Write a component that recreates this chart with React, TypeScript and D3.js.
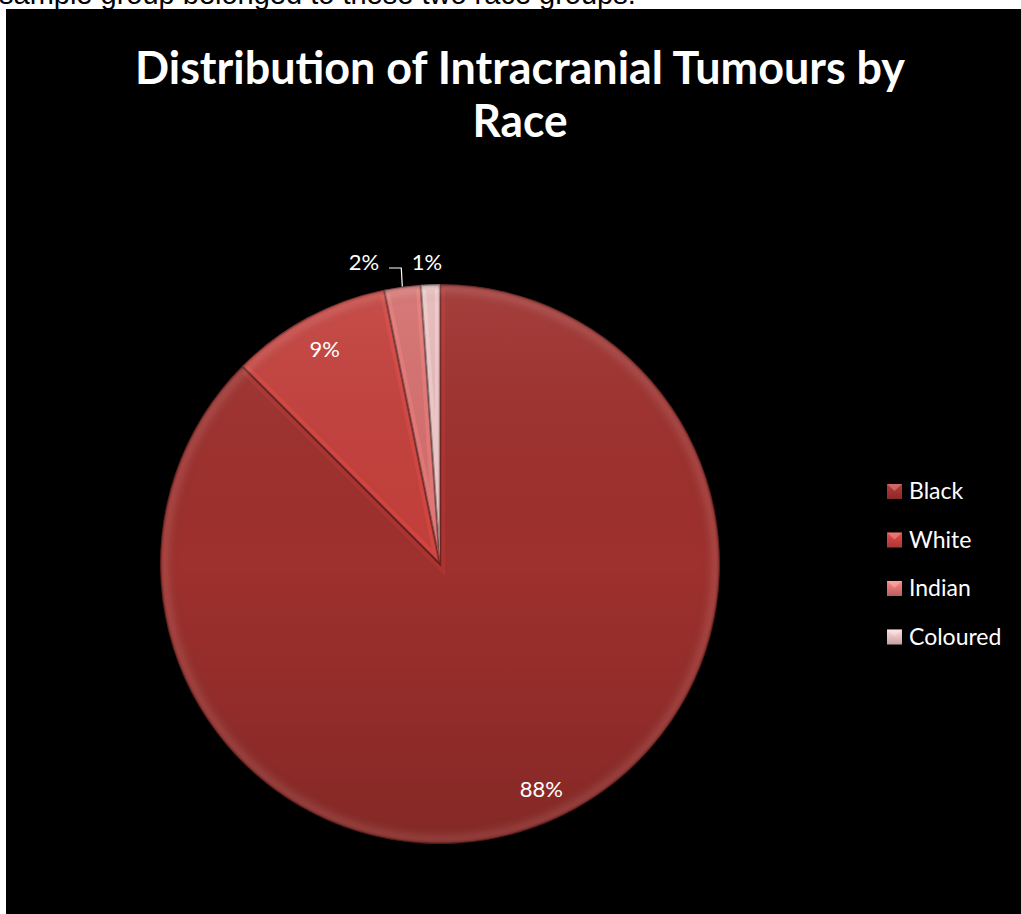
import React from "react";
import * as d3 from "d3";

const categories = ["Black", "White", "Indian", "Coloured"];
const values = [87.5, 9.3, 2.1, 1.1];
const colors = ["#9e302d", "#c3403c", "#d46f6e", "#e6b9b9"];
const title = ["Distribution of Intracranial Tumours by", "Race"];
const topText = "sample group belonged to these two race groups.";

const W = 1021;
const H = 914;
const cx = 440;
const cy = 564;
const R = 280;

export default function App() {
  const total = d3.sum(values);
  const pie = d3.pie<number>().sort(null).value((d) => d)(values);
  const arc = d3.arc<d3.PieArcDatum<number>>().innerRadius(0).outerRadius(R);
  const fmt = (v: number) => Math.round((v / total) * 100) + "%";

  const labels = pie.map((p, i) => {
    const mid = (p.startAngle + p.endAngle) / 2;
    const frac = p.value / total;
    if (frac > 0.05) {
      const rr = R * 0.87;
      const x = cx + rr * Math.sin(mid) + (frac > 0.5 ? 8 : 0);
      return { i, x, y: cy - rr * Math.cos(mid), outside: false, mid };
    }
    return { i, x: cx + (R + 10) * Math.sin(mid) - 3, y: cy - R - 22, outside: true, mid };
  });
  const outs = labels.filter((l) => l.outside).sort((a, b) => b.x - a.x);
  for (let k = 1; k < outs.length; k++) {
    if (outs[k - 1].x - outs[k].x < 63) outs[k].x = outs[k - 1].x - 63;
  }

  return (
    <svg width={W} height={H} style={{ position: "absolute", left: 0, top: 0 }}>
      <defs>
        <linearGradient id="shade" x1="0" y1="0" x2="0" y2="1">
          <stop offset="0" stopColor="#ffffff" stopOpacity={0.08} />
          <stop offset="0.5" stopColor="#000000" stopOpacity={0} />
          <stop offset="1" stopColor="#000000" stopOpacity={0.16} />
        </linearGradient>
        <radialGradient id="rim" cx="0.5" cy="0.5" r="0.5">
          <stop offset="0.93" stopColor="#000" stopOpacity={0} />
          <stop offset="0.975" stopColor="#ffffff" stopOpacity={0.08} />
          <stop offset="1" stopColor="#000" stopOpacity={0.25} />
        </radialGradient>
        {pie.map((p, i) => (
          <clipPath id={"clip" + i} key={i}>
            <path d={arc(p) || ""} transform={`translate(${cx},${cy})`} />
          </clipPath>
        ))}
        {colors.map((c, i) => (
          <linearGradient id={"lg" + i} key={i} x1="0" y1="0" x2="0" y2="1">
            <stop offset="0" stopColor={d3.color(c)!.brighter(0.5).toString()} />
            <stop offset="1" stopColor={d3.color(c)!.darker(0.4).toString()} />
          </linearGradient>
        ))}
      </defs>
      <rect x={0} y={0} width={W} height={H} fill="#ffffff" />
      <text x={-1} y={4} fontFamily="Liberation Sans, Arial, sans-serif" fontSize={29} fill="#000">
        {topText}
      </text>
      <rect x={6} y={9} width={W - 6} height={H - 9} fill="#000000" />
      <g fontFamily="Lato, 'Open Sans', sans-serif" fontWeight="bold" fill="#ffffff" textAnchor="middle">
        <text x={520} y={84} fontSize={46} textLength={770} lengthAdjust="spacingAndGlyphs">{title[0]}</text>
        <text x={520} y={137} fontSize={46} textLength={95} lengthAdjust="spacingAndGlyphs">{title[1]}</text>
      </g>
      <g>
        {pie.map((p, i) => (
          <g key={i} clipPath={`url(#clip${i})`}>
            <path d={arc(p) || ""} transform={`translate(${cx},${cy})`} fill={colors[i]} />
            <path
              d={arc(p) || ""}
              transform={`translate(${cx},${cy})`}
              fill="none"
              stroke={d3.color(colors[i])!.brighter(0.6).toString()}
              strokeOpacity={0.35}
              strokeWidth={10}
            />
            <path
              d={arc(p) || ""}
              transform={`translate(${cx},${cy})`}
              fill="none"
              stroke="#000"
              strokeOpacity={0.35}
              strokeWidth={2.5}
            />
          </g>
        ))}
        <circle cx={cx} cy={cy} r={R} fill="url(#shade)" />
        <circle cx={cx} cy={cy} r={R} fill="url(#rim)" />
      </g>
      <g fontFamily="Lato, 'Open Sans', sans-serif" fontSize={22} fill="#ffffff" textAnchor="middle">
        {labels.map((l) => (
          <text key={l.i} x={l.x} y={l.y} dy="0.35em">
            {fmt(values[l.i])}
          </text>
        ))}
        {labels
          .filter((l) => l.outside)
          .map((l) => {
            const ax = cx + R * Math.sin(l.mid);
            const ay = cy - R * Math.cos(l.mid);
            if (Math.abs(ax - l.x) < 12) return null;
            const sx = l.x + 25;
            return (
              <polyline
                key={"ld" + l.i}
                points={`${sx},${l.y + 6} ${ax - 1},${l.y + 6} ${ax},${ay}`}
                fill="none"
                stroke="#ffffff"
                strokeWidth={1.2}
              />
            );
          })}
      </g>
      <g fontFamily="Lato, 'Open Sans', sans-serif" fontSize={23} fill="#ffffff">
        {categories.map((c, i) => {
          const y = 491 + i * 48.5;
          return (
            <g key={c}>
              <rect x={887} y={y - 7} width={15} height={15} fill={`url(#lg${i})`} />
              <path
                d={`M${887},${y - 7} L${894.5},${y} L${902},${y - 7} Z`}
                fill="#ffffff"
                fillOpacity={0.25}
              />
              <text x={909} y={y} dy="0.35em">
                {c}
              </text>
            </g>
          );
        })}
      </g>
    </svg>
  );
}
